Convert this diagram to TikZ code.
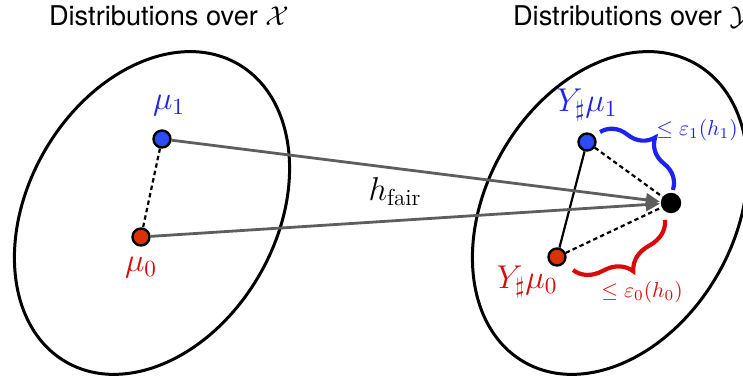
\RequirePackage{fix-cm}
\documentclass[tikz,border=0pt]{standalone}
\usepackage{fontspec}
\newfontfamily\titlefont{TeX Gyre Heros}
\usetikzlibrary{arrows.meta,decorations.pathreplacing}

\begin{document}
\begin{tikzpicture}[x=0.5pt, y=0.5pt,
    dot/.style={circle, draw=black, line width=1.2pt, inner sep=0pt, minimum size=8.5pt},
    mapArrow/.style={draw=arrowColour, line width=1.4pt, -{Triangle[length=7pt, width=6.5pt]}, shorten >=0.5pt},
    distLine/.style={line width=1.1pt, dash pattern=on 2.2pt off 1.6pt},
    bigBrace/.style={decorate, decoration={brace, amplitude=15pt}, line width=2.1pt},
    titleLbl/.style={font=\titlefont\fontsize{13.6}{16}\selectfont, anchor=base west},
    lbl/.style={font=\fontsize{16.5}{19}\selectfont},
    errLbl/.style={font=\fontsize{10.8}{13}\selectfont}]

    \definecolor{arrowColour}{HTML}{5E5E5E}
    \definecolor{blueText}{HTML}{1E22F0}
    \definecolor{redText}{HTML}{D90A0A}
    \definecolor{blueFill}{HTML}{2C4BFA}
    \definecolor{redFill}{HTML}{D93208}

    % Page frame
    \useasboundingbox (0,0) rectangle (743,383);
    \clip (0,0) rectangle (743,383);

    % Titles
    \node[titleLbl] (titleX) at (42,357) {Distributions over $\mathcal{X}$};
    \node[titleLbl] (titleY) at (506,357) {Distributions over $\mathcal{Y}$};

    % Draw the two spaces
    \draw[line width=1.5pt] (152,170) ellipse [x radius=124, y radius=172, rotate=-30];
    \draw[line width=1.5pt] (610,170) ellipse [x radius=124, y radius=172, rotate=-30];

    % Points
    \node[dot, fill=blueFill] (mu1) at (162,244) {};
    \node[dot, fill=redFill] (mu0) at (141,146) {};
    \node[dot, fill=blueFill] (pushmu1) at (587,241) {};
    \node[dot, fill=redFill] (pushmu0) at (557,126) {};
    \node[dot, fill=black, minimum size=9pt] (target) at (671,180) {};

    % Point labels
    \node[lbl, text=blueText] (mu1Label) at (169,277) {$\mu_1$};
    \node[lbl, text=redText] (mu0Label) at (141,115) {$\mu_0$};
    \node[lbl, text=blueText] (pushmu1Label) at (587,278) {$Y_\sharp\mu_1$};
    \node[lbl, text=redText] (pushmu0Label) at (527,101) {$Y_\sharp\mu_0$};

    % Distances
    \draw[distLine] (mu1) -- (mu0);
    \draw[line width=1.1pt] (pushmu1) -- (pushmu0);
    \draw[distLine] (pushmu1) -- (target);
    \draw[distLine] (pushmu0) -- (target);

    % Map h_fair
    \draw[mapArrow] (mu1) -- (target);
    \draw[mapArrow] (mu0) -- (target);
    \node[lbl] (hLabel) at (395,191) {$h_{\mathrm{fair}}$};

    % Error braces
    \coordinate (braceOneStart) at (600,251);
    \coordinate (braceOneEnd) at (673,193);
    \draw[bigBrace, blueText] (braceOneStart) -- (braceOneEnd);
    \node[errLbl, text=blueText] (epsOne) at (697,253) {$\leq \varepsilon_1(h_1)$};

    \coordinate (braceZeroStart) at (665,163);
    \coordinate (braceZeroEnd) at (573,113);
    \draw[bigBrace, redText] (braceZeroStart) -- (braceZeroEnd);
    \node[errLbl, text=redText] (epsZero) at (642,91) {$\leq \varepsilon_0(h_0)$};

\end{tikzpicture}
\end{document}
